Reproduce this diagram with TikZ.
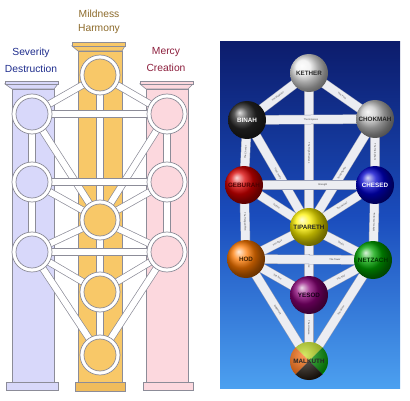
\documentclass[tikz,border=0pt]{standalone}
\usepackage{fontspec}
\setmainfont{Liberation Sans}
\definecolor{lav}{HTML}{D8D8FA}
\definecolor{goldp}{HTML}{F8C868}
\definecolor{goldb}{HTML}{F0BC5C}
\definecolor{pinkp}{HTML}{FCD8DE}
\definecolor{edgec}{HTML}{8C8C98}
\definecolor{sevc}{HTML}{1E2C8C}
\definecolor{mildc}{HTML}{8C6A2A}
\definecolor{mercc}{HTML}{8C1E3C}
\definecolor{bgtop}{HTML}{0C1C6C}
\definecolor{bgmid}{HTML}{1A4CBC}
\definecolor{bgbot}{HTML}{4CA0F0}
\definecolor{barc}{HTML}{ECEDF2}
\definecolor{baredge}{HTML}{9AA0B8}
\begin{document}
\begin{tikzpicture}[x=1pt,y=-1pt,
  pillar/.style={draw=edgec,line width=0.6pt},
  lpath/.style={draw=edgec,line width=0.7pt,double=white,double distance=6pt},
  ring/.style={circle,draw=edgec,line width=0.7pt,fill=white,minimum size=40pt,inner sep=0pt},
  core/.style={circle,draw=edgec,line width=0.7pt,minimum size=32pt,inner sep=0pt},
  ttl/.style={font=\fontsize{10.3}{12}\selectfont},
  rpath/.style={draw=baredge,line width=0.5pt,double=barc,double distance=8.5pt},
  plab/.style={font=\fontsize{2.4}{2.4}\selectfont,text=black!75,inner sep=0pt,sloped},
  sphere/.style={circle,minimum size=38pt,inner sep=0pt,font=\bfseries\fontsize{6.3}{6.3}\selectfont}]
\useasboundingbox (0,0) rectangle (410,401);

% ---------- titles ----------
\node[ttl,text=mildc] (t1) at (99,14) {Mildness};
\node[ttl,text=mildc] (t2) at (99,29) {Harmony};
\node[ttl,text=sevc] (t3) at (31,53) {Severity};
\node[ttl,text=sevc] (t4) at (31,69) {Destruction};
\node[ttl,text=mercc] (t5) at (166,52) {Mercy};
\node[ttl,text=mercc] (t6) at (166,68) {Creation};

% ---------- pillars ----------
% left
\filldraw[pillar,fill=lav] (12,89) rectangle (54,382);
\filldraw[pillar,fill=lav] (5,84) -- (58,84) -- (54,89) -- (12,89) -- cycle;
\filldraw[pillar,fill=lav] (5,81) rectangle (58,84);
\filldraw[pillar,fill=lav] (6,382) rectangle (58,390);
% middle
\filldraw[pillar,fill=goldp] (78,51) rectangle (122,382);
\filldraw[pillar,fill=goldp] (72,46) -- (125,46) -- (122,51) -- (78,51) -- cycle;
\filldraw[pillar,fill=goldp] (72,42) rectangle (125,46);
\filldraw[pillar,fill=goldb] (75,382) rectangle (125,391);
% right
\filldraw[pillar,fill=pinkp] (146,89) rectangle (188,382);
\filldraw[pillar,fill=pinkp] (140,84) -- (193,84) -- (188,89) -- (146,89) -- cycle;
\filldraw[pillar,fill=pinkp] (140,81) rectangle (193,84);
\filldraw[pillar,fill=pinkp] (143,382) rectangle (193,390);

% ---------- left tree ----------
\coordinate (lK) at (100,75);
\coordinate (lB) at (32,114);
\coordinate (lC) at (167,114);
\coordinate (lG) at (32,182);
\coordinate (lCh) at (167,182);
\coordinate (lT) at (100,220);
\coordinate (lH) at (32,252);
\coordinate (lN) at (167,252);
\coordinate (lY) at (100,292);
\coordinate (lM) at (100,355);

% verticals
\draw[lpath] (lK) -- (lT);
\draw[lpath] (lT) -- (lY);
\draw[lpath] (lY) -- (lM);
\draw[lpath] (lB) -- (lG);
\draw[lpath] (lG) -- (lH);
\draw[lpath] (lC) -- (lCh);
\draw[lpath] (lCh) -- (lN);
% diagonals
\draw[lpath] (lK) -- (lB);
\draw[lpath] (lK) -- (lC);
\draw[lpath] (lB) -- (lT);
\draw[lpath] (lC) -- (lT);
\draw[lpath] (lG) -- (lT);
\draw[lpath] (lCh) -- (lT);
\draw[lpath] (lH) -- (lT);
\draw[lpath] (lN) -- (lT);
\draw[lpath] (lH) -- (lY);
\draw[lpath] (lN) -- (lY);
\draw[lpath] (lH) -- (lM);
\draw[lpath] (lN) -- (lM);
% horizontals
\draw[lpath] (lB) -- (lC);
\draw[lpath] (lG) -- (lCh);
\draw[lpath] (lH) -- (lN);

% sephiroth (left)
\foreach \p/\c in {lK/goldp,lB/lav,lC/pinkp,lG/lav,lCh/pinkp,lT/goldp,lH/lav,lN/pinkp,lY/goldp,lM/goldp}{
  \node[ring] (\p o) at (\p) {};
  \node[core,fill=\c] (\p i) at (\p) {};
}

% ---------- right image ----------
\shade[top color=bgtop,bottom color=bgbot,middle color=bgmid] (220,42) rectangle (400,388);

\coordinate (rK) at (309,73);
\coordinate (rB) at (247,120);
\coordinate (rC) at (375,119);
\coordinate (rG) at (244,185);
\coordinate (rCh) at (375,185);
\coordinate (rT) at (309,227);
\coordinate (rH) at (246,259);
\coordinate (rN) at (373,260);
\coordinate (rY) at (309,295);
\coordinate (rM) at (309,361);

\draw[rpath] (rK) -- node[plab]{The Fool} (rC);
\draw[rpath] (rK) -- node[plab]{The Magician} (rB);
\draw[rpath] (rK) -- node[plab,pos=0.52]{The High Priestess} (rT);
\draw[rpath] (rC) -- node[plab]{The Empress} (rB);
\draw[rpath] (rC) -- node[plab]{The Emperor} (rT);
\draw[rpath] (rC) -- node[plab]{The Hierophant} (rCh);
\draw[rpath] (rB) -- node[plab]{The Lovers} (rT);
\draw[rpath] (rB) -- node[plab]{The Chariot} (rG);
\draw[rpath] (rCh) -- node[plab,pos=0.4]{Strength} (rG);
\draw[rpath] (rCh) -- node[plab]{The Hermit} (rT);
\draw[rpath] (rCh) -- node[plab]{Wheel of Fortune} (rN);
\draw[rpath] (rG) -- node[plab]{Justice} (rT);
\draw[rpath] (rG) -- node[plab]{The Hanged Man} (rH);
\draw[rpath] (rT) -- node[plab]{Death} (rN);
\draw[rpath] (rT) -- node[plab]{Temperance} (rY);
\draw[rpath] (rT) -- node[plab]{The Devil} (rH);
\draw[rpath] (rN) -- node[plab,pos=0.3]{The Tower} (rH);
\draw[rpath] (rN) -- node[plab]{The Star} (rY);
\draw[rpath] (rN) -- node[plab]{The Moon} (rM);
\draw[rpath] (rH) -- node[plab]{The Sun} (rY);
\draw[rpath] (rH) -- node[plab]{Judgement} (rM);
\draw[rpath] (rY) -- node[plab]{The Universe} (rM);

% spheres
\node[sphere,ball color=gray!12,text=black!85] (sK) at (rK) {KETHER};
\node[sphere,ball color=black!85,text=white] (sB) at (rB) {BINAH};
\node[sphere,ball color=gray!45,text=black!85] (sC) at (rC) {CHOKMAH};
\node[sphere,ball color=red!85!black,text=black!70!red] (sG) at (rG) {GEBURAH};
\node[sphere,ball color=blue!80!black,text=white] (sCh) at (rCh) {CHESED};
\node[sphere,ball color=yellow!90!orange,text=black!85] (sT) at (rT) {TIPARETH};
\node[sphere,ball color=orange!95!red,text=black!75!orange] (sH) at (rH) {HOD};
\node[sphere,ball color=green!65!black,text=black!80!green] (sN) at (rN) {NETZACH};
\node[sphere,ball color=violet!85!purple,text=black!80!violet] (sY) at (rY) {YESOD};
\begin{scope}
  \clip (rM) circle (19pt);
  \fill[yellow!75!green] (rM) -- ++(-25,-25) -- ++(50,0) -- cycle;
  \fill[orange!80!red] (rM) -- ++(-25,-25) -- ++(0,50) -- cycle;
  \fill[green!60!black] (rM) -- ++(25,-25) -- ++(0,50) -- cycle;
  \fill[black!85!brown] (rM) -- ++(-25,25) -- ++(50,0) -- cycle;
  \shade[inner color=white,outer color=black,opacity=0.35] (rM) ++(-5,-6) circle (26pt);
\end{scope}
\node[sphere,text=black!85] (sM) at (rM) {MALKUTH};
\end{tikzpicture}
\end{document}
